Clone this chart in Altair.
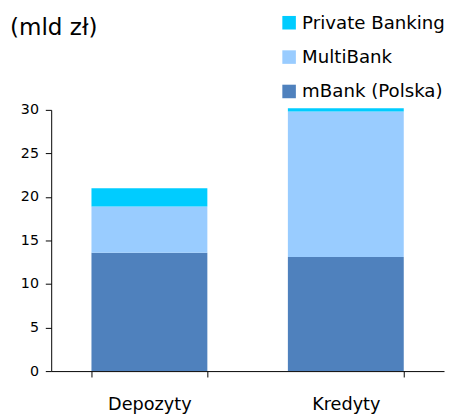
import altair as alt
import pandas as pd

categories = ["Depozyty", "Kredyty"]
series = ["mBank (Polska)", "MultiBank", "Private Banking"]
mbank = [13.6, 13.1]
multibank = [5.3, 16.7]
private_banking = [2.1, 0.4]
colors = ["#00CCFF", "#99CCFF", "#4F81BD"]
legend_order = ["Private Banking", "MultiBank", "mBank (Polska)"]

rows = []
for i, c in enumerate(categories):
    for k, (s, vals) in enumerate(zip(series, [mbank, multibank, private_banking])):
        rows.append({"cat": c, "series": s, "value": vals[i], "ord": k})
df = pd.DataFrame(rows)

FONT = "DejaVu Sans"

bars = alt.Chart(df).mark_bar().encode(
    x=alt.X("cat:N", sort=categories, title=None,
            scale=alt.Scale(paddingInner=0.41, paddingOuter=0.205),
            axis=alt.Axis(labelAngle=0, tickBand="extent", labelFontSize=18,
                          labelFont=FONT, labelColor="black", labelPadding=19,
                          domainColor="#000000", tickColor="#000000", tickSize=6)),
    y=alt.Y("value:Q", stack="zero", title=None,
            scale=alt.Scale(domain=[0, 30], nice=False),
            axis=alt.Axis(values=[0, 5, 10, 15, 20, 25, 30], grid=False,
                          labelFontSize=14.5, labelFont=FONT, labelColor="black",
                          domainColor="#000000", tickColor="#000000", tickSize=6,
                          labelPadding=7)),
    color=alt.Color("series:N",
                    scale=alt.Scale(domain=legend_order, range=colors),
                    legend=alt.Legend(title=None, orient="none", legendX=233, legendY=-98,
                                      symbolType="square", symbolSize=190,
                                      symbolStrokeWidth=0, labelFontSize=18.5,
                                      labelFont=FONT, labelColor="black",
                                      rowPadding=16, labelOffset=4, padding=0)),
    order=alt.Order("ord:Q"),
)

title = alt.Chart(pd.DataFrame({"t": ["(mld zł)"]})).mark_text(
    align="left", baseline="middle", fontSize=23.5, font=FONT, color="black"
).encode(text="t:N", x=alt.value(-42), y=alt.value(-83))

chart = alt.layer(bars, title).properties(
    width=400, height=266,
    autosize=alt.AutoSizeParams(type="none"),
    padding={"left": 44, "top": 100, "right": 1, "bottom": 43},
).configure_view(stroke=None)

chart.save("out.html", embed_options={"renderer": "svg", "actions": False})
